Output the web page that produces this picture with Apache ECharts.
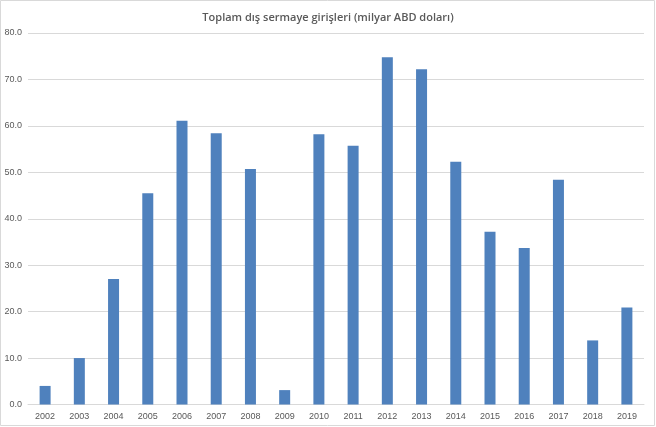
<!DOCTYPE html>
<html>
<head>
<meta charset="utf-8">
<script src="https://cdn.jsdelivr.net/npm/echarts@6/dist/echarts.min.js"></script>
<style>
html,body{margin:0;padding:0;background:#fff;}
#c{width:656px;height:427px;}
</style>
</head>
<body>
<div id="c"></div>
<script>
var categories = ['2002','2003','2004','2005','2006','2007','2008','2009','2010','2011','2012','2013','2014','2015','2016','2017','2018','2019'];
var values = [4.0, 10.0, 27.0, 45.5, 61.1, 58.4, 50.7, 3.1, 58.2, 55.7, 74.8, 72.2, 52.3, 37.2, 33.7, 48.4, 13.8, 20.9];
var titleText = 'Toplam dış sermaye girişleri (milyar ABD doları)';

var chart = echarts.init(document.getElementById('c'));
chart.setOption({
  animation: false,
  backgroundColor: '#ffffff',
  title: {
    text: titleText,
    left: 'center',
    top: 7,
    textStyle: {fontFamily: 'Open Sans', fontSize: 11, fontWeight: 600, color: '#595959'}
  },
  graphic: [{
    type: 'rect',
    shape: {x: 0.5, y: 0.5, width: 654, height: 425},
    style: {fill: 'none', stroke: '#d9d9d9', lineWidth: 1},
    silent: true
  }],
  grid: {left: 28, right: 12, top: 33, bottom: 22.5, containLabel: false},
  xAxis: {
    type: 'category',
    data: categories,
    axisLine: {lineStyle: {color: '#d9d9d9'}},
    axisTick: {show: false},
    axisLabel: {color: '#595959', fontSize: 9, fontFamily: 'Liberation Sans', margin: 8}
  },
  yAxis: {
    type: 'value',
    min: 0, max: 80, interval: 10,
    axisLine: {show: false},
    axisTick: {show: false},
    splitLine: {lineStyle: {color: '#d9d9d9'}},
    axisLabel: {color: '#595959', fontSize: 9, fontFamily: 'Liberation Sans', margin: 6,
      formatter: function(v){ return v.toFixed(1); }}
  },
  series: [{
    type: 'bar',
    data: values,
    barWidth: 11,
    itemStyle: {color: '#4f81bd'}
  }]
});
</script>
</body>
</html>
